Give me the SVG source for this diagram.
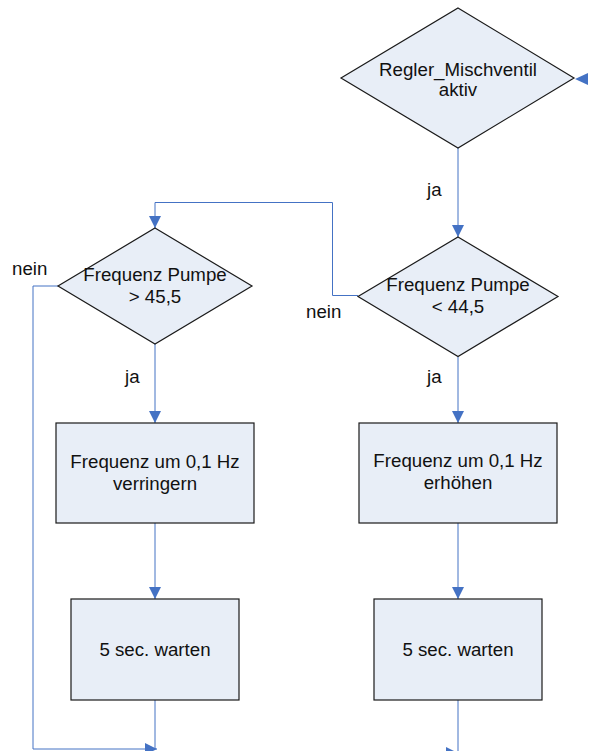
<svg xmlns="http://www.w3.org/2000/svg" width="589" height="751" viewBox="0 0 589 751">
  <defs>
    <style>
      .shape { fill: #E8EEF7; stroke: #1a1a1a; stroke-width: 1.2; }
      .conn { fill: none; stroke: #4472C4; stroke-width: 1; }
      .head { fill: #4472C4; stroke: none; }
      text { font-family: "Liberation Sans", Arial, sans-serif; font-size: 18.7px; fill: #111; }
      .c { text-anchor: middle; }
    </style>
    <marker id="arrow" markerUnits="userSpaceOnUse" markerWidth="12" markerHeight="12" refX="12" refY="6" orient="auto">
      <path d="M0,0 L12,6 L0,12 z" fill="#4472C4"/>
    </marker>
  </defs>
  <rect width="589" height="751" fill="#ffffff"/>

  <!-- connectors -->
  <g id="connectors">
    <!-- Regler_Mischventil aktiv -> Frequenz Pumpe < 44,5 -->
    <line class="conn" x1="458" y1="148" x2="458" y2="237" marker-end="url(#arrow)"/>
    <!-- < 44,5 ja -> erhoehen -->
    <line class="conn" x1="458" y1="357" x2="458" y2="423" marker-end="url(#arrow)"/>
    <!-- < 44,5 nein -> > 45,5 -->
    <polyline class="conn" points="358,295.5 332.5,295.5 332.5,202.5 155,202.5 155,228" marker-end="url(#arrow)"/>
    <!-- > 45,5 ja -> verringern -->
    <line class="conn" x1="155" y1="344" x2="155" y2="423" marker-end="url(#arrow)"/>
    <!-- > 45,5 nein -> bottom -->
    <polyline class="conn" points="58,286 33,286 33,749 157,749" marker-end="url(#arrow)"/>
    <!-- rects -> wait -->
    <line class="conn" x1="155" y1="523" x2="155" y2="599" marker-end="url(#arrow)"/>
    <line class="conn" x1="458" y1="523" x2="458" y2="599" marker-end="url(#arrow)"/>
    <!-- wait -> bottom -->
    <line class="conn" x1="155" y1="700" x2="155" y2="749"/>
    <line class="conn" x1="458" y1="700" x2="458" y2="760"/>
    <!-- incoming arrowheads -->
    <polygon class="head" points="575,79 588,73 588,85"/>
    <polygon class="head" points="446,747 458,753 446,759"/>
  </g>

  <!-- decision: Regler_Mischventil aktiv -->
  <g id="n_regler">
    <polygon class="shape" points="458,8 574,78 458,148 341,78"/>
    <text class="c" x="458" y="76">Regler_Mischventil</text>
    <text class="c" x="458" y="96">aktiv</text>
  </g>

  <!-- decision: Frequenz Pumpe < 44,5 -->
  <g id="n_lt">
    <polygon class="shape" points="458,237 558,296.5 458,356.5 358,296.5"/>
    <text class="c" x="458" y="291">Frequenz Pumpe</text>
    <text class="c" x="458" y="313">&lt; 44,5</text>
  </g>

  <!-- decision: Frequenz Pumpe > 45,5 -->
  <g id="n_gt">
    <polygon class="shape" points="155,228 252,286 155,344 58,286"/>
    <text class="c" x="155" y="281">Frequenz Pumpe</text>
    <text class="c" x="155" y="303">&gt; 45,5</text>
  </g>

  <!-- process: verringern -->
  <g id="n_down">
    <rect class="shape" x="56" y="423" width="198" height="100"/>
    <text class="c" x="155" y="468">Frequenz um 0,1 Hz</text>
    <text class="c" x="155" y="490">verringern</text>
  </g>

  <!-- process: erhoehen -->
  <g id="n_up">
    <rect class="shape" x="359" y="423" width="198" height="100"/>
    <text class="c" x="458" y="467">Frequenz um 0,1 Hz</text>
    <text class="c" x="458" y="489">erhöhen</text>
  </g>

  <!-- wait boxes -->
  <g id="n_wait_left">
    <rect class="shape" x="71" y="599" width="168" height="101"/>
    <text class="c" x="155" y="656">5 sec. warten</text>
  </g>
  <g id="n_wait_right">
    <rect class="shape" x="374" y="599" width="168" height="101"/>
    <text class="c" x="458" y="656">5 sec. warten</text>
  </g>

  <!-- branch labels -->
  <g id="labels">
    <text x="427" y="196">ja</text>
    <text x="306" y="318">nein</text>
    <text x="12" y="275">nein</text>
    <text x="125" y="383">ja</text>
    <text x="427" y="383">ja</text>
  </g>
</svg>
